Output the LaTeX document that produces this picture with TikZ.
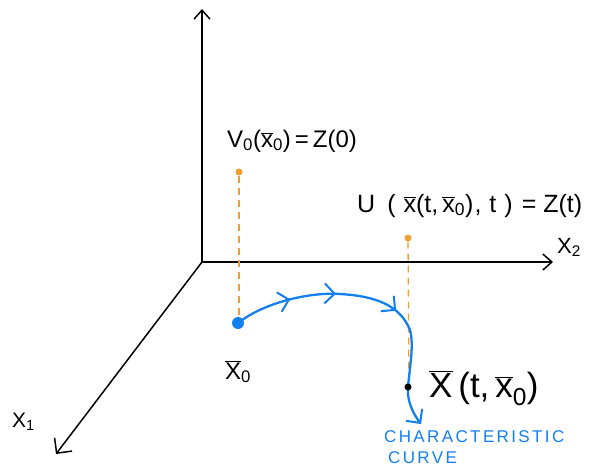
\documentclass[tikz,border=0pt]{standalone}
\usepackage{fontspec}
\setmainfont{Liberation Sans}
\setsansfont{Liberation Sans}
\usetikzlibrary{arrows.meta,decorations.markings}
\definecolor{cblue}{RGB}{20,128,240}
\definecolor{corange}{RGB}{240,160,50}
\newcommand\ob[1]{$\overline{\mbox{#1}}$}
\newcommand\sub[1]{\textsubscript{#1}}
\tikzset{
  barb/.tip={Straight Barb[length=10pt,width=20pt,line width=2pt]},
  axis/.style={line width=1.5pt,-{Straight Barb[length=9pt,width=16pt,line width=1.5pt]}},
  axisb/.style={line width=1.5pt,-{Straight Barb[length=11pt,width=22pt,line width=1.5pt]}},
  guide/.style={corange,line width=1.3pt,dash pattern=on 7pt off 5pt},
  odot/.style={circle,fill=corange,inner sep=0pt,minimum size=7pt},
  lbl/.style={inner sep=0pt,anchor=base west},
  blab/.style={cblue,font=\fontsize{17}{20}\selectfont\addfontfeature{LetterSpace=14},inner sep=0pt,anchor=base west},
  curve/.style={cblue,line width=2.3pt,-{barb},
    postaction={decorate},
    decoration={markings,
      mark=at position 0.20 with {\arrow{barb}},
      mark=at position 0.36 with {\arrow{barb}},
      mark=at position 0.58 with {\arrow{barb}}}},
}
\begin{document}
\begin{tikzpicture}[x=1pt,y=-1pt]
\useasboundingbox (0,0) rectangle (609,466);
\coordinate (O) at (202,262);
\coordinate (ztip) at (202,9);
\coordinate (ytip) at (553,262);
\coordinate (xtip) at (56,454);
\draw[axis] (O) -- (ztip);
\draw[axis] (O) -- (ytip);
\draw[axisb] (O) -- (xtip);
\node[lbl,font=\fontsize{22}{24}\selectfont] (x2) at (557,253) {X\sub{2}};
\node[lbl,font=\fontsize{21}{24}\selectfont] (x1) at (12,427) {X\sub{1}};
% points
\node[odot] (p0) at (239,172) {};
\node[odot] (pt) at (408,238) {};
\coordinate (b0) at (239,318);
\coordinate (bt) at (409,386);
\draw[guide] (p0) -- (b0);
\draw[guide] (pt) -- (bt);
% curve
\draw[curve] (238,323) .. controls (265,302) and (310,292) .. (340,294)
  .. controls (375,296) and (400,305) .. (410,330)
  .. controls (414,345) and (410,365) .. (408,387)
  .. controls (407,400) and (412,412) .. (421,424);
\node[circle,fill=cblue,inner sep=0pt,minimum size=12pt] (s0) at (238,323) {};
\node[circle,fill=black,inner sep=0pt,minimum size=7pt] (st) at (408,387) {};
% labels
\node[lbl,font=\fontsize{24}{26}\selectfont] (l0) at (227,147) {V\sub{0}(\ob{x}\sub{0})\,=\,Z(0)};
\node[lbl,font=\fontsize{25}{28}\selectfont] (lt) at (357,212) {U\hspace{12pt}(\hspace{8pt}\ob{x}(t,\,\ob{x}\sub{0})\hspace{1pt},\hspace{8pt}t\hspace{8pt})\hspace{9pt}=\hspace{7pt}Z(t)};
\node[lbl,font=\fontsize{24}{26}\selectfont] (lx0) at (225,379) {\ob{X}\sub{0}};
\node[lbl,font=\fontsize{35}{38}\selectfont] (lxt) at (429,397) {\ob{X}\,(t,\,\ob{x}\sub{0})};
\node[blab] (c1) at (384,442) {CHARACTERISTIC};
\node[blab] (c2) at (388,463) {CURVE};
\end{tikzpicture}
\end{document}
